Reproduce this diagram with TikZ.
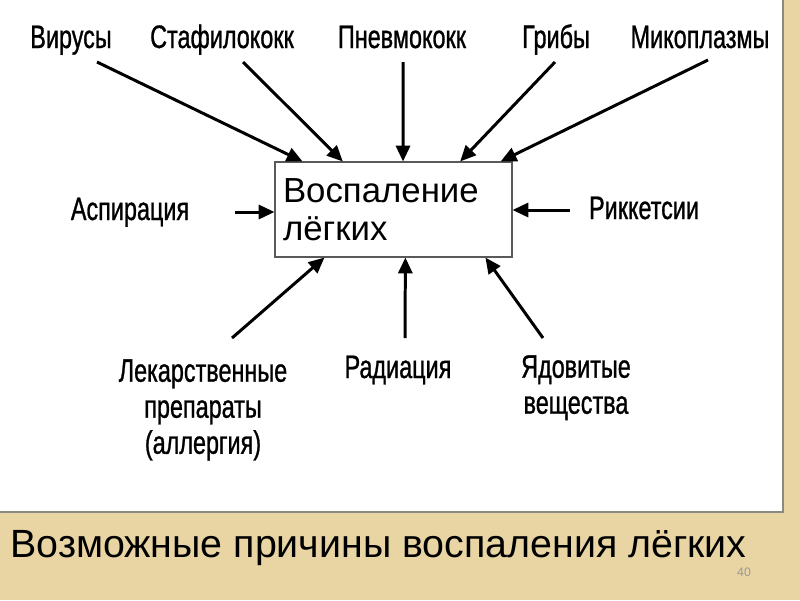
\documentclass[tikz,border=0pt]{standalone}
\usepackage{fontspec}
\setmainfont{Liberation Sans}
\newfontfamily\narrowfont[FakeStretch=0.72, FakeBold=0.9]{Liberation Sans}
\usetikzlibrary{arrows.meta, positioning, calc}
\definecolor{PapyrusTan}{HTML}{E8D5A3}
\definecolor{PanelEdge}{HTML}{8A8A80}
\tikzset{
  cause/.style={
    font={\narrowfont\fontsize{18.5}{20.5}\selectfont},
    inner sep=0pt, align=center, anchor=base
  },
  lungbox/.style={
    rectangle, draw=black!65, line width=0.6pt, fill=white,
    minimum width=237*0.02cm, minimum height=95*0.02cm,
    text width=221*0.02cm, align=left, inner sep=0pt,
    font={\fontsize{19.8}{19.8}\selectfont}
  },
  arrow/.style={
    -{Triangle[length=9pt, width=8pt]},
    line width=1.7pt
  }
}

\begin{document}
\begin{tikzpicture}[x=0.02cm, y=-0.02cm]

% ── Page and panel ────────────────────────────────────────────────────────────

\useasboundingbox (0,0) rectangle (800,600);
\fill[PapyrusTan] (0,0) rectangle (800,600);
\fill[white] (0,0) rectangle (783,512);
\draw[PanelEdge, line width=0.8pt] (783,0) -- (783,512) -- (0,512);

% ── Central box ───────────────────────────────────────────────────────────────

\node[lungbox] (lung) at (393.5,209.5) {Воспаление\\[2pt]лёгких};

% ── Causes (single lines on their baseline, stacked ones by their top) ────────

\node[cause] (vir)  at (71,48)  {Вирусы};
\node[cause] (staf) at (222,48) {Стафилококк};
\node[cause] (pnev) at (402,48) {Пневмококк};
\node[cause] (grib) at (556,48) {Грибы};
\node[cause] (mik)  at (700,48) {Микоплазмы};

\node[cause] (asp)  at (130,220) {Аспирация};
\node[cause] (rik)  at (644,219) {Риккетсии};

\node[cause, anchor=north] (lek) at (203,359) {Лекарственные\\препараты\\(аллергия)};
\node[cause] (rad) at (398,378) {Радиация};
\node[cause, anchor=north] (yad) at (576,355) {Ядовитые\\вещества};

% ── Arrow tails (free ends) ───────────────────────────────────────────────────

\coordinate (virS)  at (97,62);
\coordinate (stafS) at (243,62);
\coordinate (pnevS) at (403,62);
\coordinate (gribS) at (555,62);
\coordinate (mikS)  at (708,60);
\coordinate (aspS)  at (235,212);
\coordinate (rikS)  at (570,210);
\coordinate (lekS)  at (232,338);
\coordinate (radS)  at (405,338);
\coordinate (yadS)  at (543,338);

% ── Arrows into the box ───────────────────────────────────────────────────────

\draw[arrow] (virS)  -- ($(lung.north west)!0.118!(lung.north east)$);
\draw[arrow] (stafS) -- ($(lung.north west)!0.287!(lung.north east)$);
\draw[arrow] (pnevS) -- ($(lung.north west)!0.540!(lung.north east)$);
\draw[arrow] (gribS) -- ($(lung.north west)!0.780!(lung.north east)$);
\draw[arrow] (mikS)  -- ($(lung.north west)!0.950!(lung.north east)$);

\draw[arrow] (aspS) -- (aspS -| lung.west);
\draw[arrow] (rikS) -- (rikS -| lung.east);

\draw[arrow] (lekS) -- ($(lung.south west)!0.210!(lung.south east)$);
\draw[arrow] (radS) -- ($(lung.south west)!0.550!(lung.south east)$);
\draw[arrow] (yadS) -- ($(lung.south west)!0.886!(lung.south east)$);

% ── Caption ───────────────────────────────────────────────────────────────────

\node[anchor=base west, inner sep=0pt, font={\fontsize{22.4}{26}\selectfont}] (title)
  at (10,557) {Возможные причины воспаления лёгких};
\node[anchor=base, inner sep=0pt, text=black!40, font={\fontsize{7}{8}\selectfont}] (pageno)
  at (744,576) {40};

\end{tikzpicture}
\end{document}
